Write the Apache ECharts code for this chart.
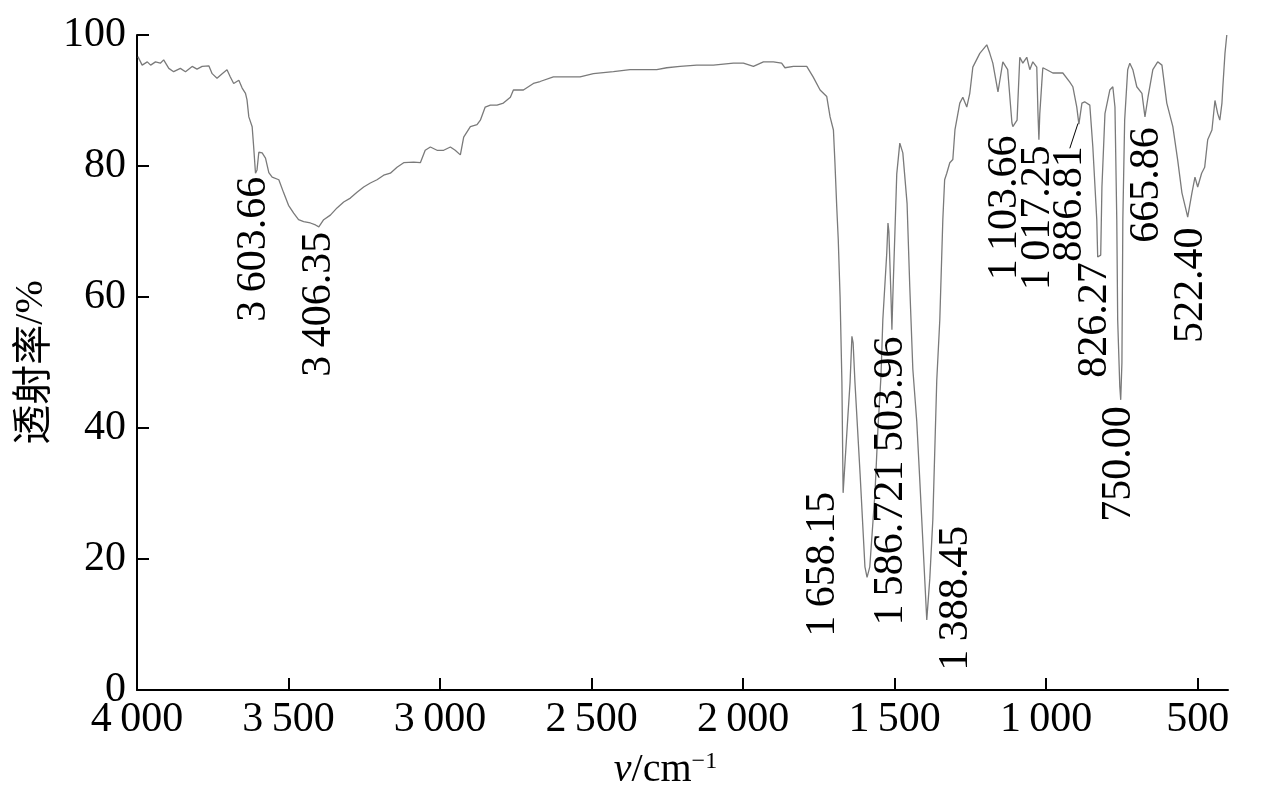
<!DOCTYPE html>
<html>
<head>
<meta charset="utf-8">
<script src="https://cdn.jsdelivr.net/npm/echarts@6/dist/echarts.min.js"></script>
<style>
html,body{margin:0;padding:0;background:#fff;}
#chart{width:1276px;height:798px;}
</style>
</head>
<body>
<div id="chart"></div>
<script>
// wavenumber (cm^-1) and transmittance (%)
const wavenumbers = [
3997,3983,3966,3955,3939,3923,3912,3895,3879,3857,3840,3818,3802,3785,3763,3752,3736,3719,3703,3692,
3681,3664,3653,3642,3637,3631,3620,3615,3609,3604,3598,3587,3576,3565,3554,3532,3516,3500,3483,3467,
3450,3428,3411,3400,3384,3362,3340,3318,3296,3274,3252,3230,3208,3186,3164,3142,3120,3087,3065,3049,
3032,3010,2988,2966,2950,2933,2922,2900,2878,2867,2851,2834,2812,2791,2768,2758,2725,2692,2670,2626,
2582,2538,2494,2428,2373,2285,2252,2208,2153,2098,2032,1999,1966,1933,1900,1873,1862,1834,1790,1769,
1746,1724,1713,1702,1697,1691,1686,1680,1674,1670,1664,1654,1647,1641,1637,1631,1614,1598,1591,1582,
1565,1555,1545,1539,1526,1522,1519,1512,1509,1506,1499,1493,1483,1473,1459,1450,1440,1427,1417,1404,
1394,1384,1374,1361,1351,1341,1335,1328,1318,1308,1301,1285,1275,1262,1252,1242,1219,1196,1186,1176,
1159,1143,1127,1113,1110,1096,1087,1077,1064,1054,1044,1031,1027,1024,1021,1014,1011,998,978,945,
922,912,899,892,882,873,856,846,833,830,820,816,806,790,780,773,767,764,757,754,
750,747,741,731,724,714,701,684,674,664,648,632,618,602,582,566,552,536,533,519,
509,500,487,477,467,453,443,434,427,420,417,410,404
];
const transmittance = [
96.7,95.4,95.9,95.4,95.9,95.7,96.2,94.9,94.4,94.9,94.4,95.2,94.8,95.2,95.3,94.1,93.4,94.1,94.7,93.6,
92.6,93.1,91.9,91.1,90.1,87.5,86.0,82.9,78.9,79.4,82.1,82.0,81.2,79.0,78.3,77.9,75.9,74.0,72.8,71.8,
71.5,71.3,71.0,70.7,71.8,72.5,73.6,74.5,75.1,76.0,76.8,77.4,77.9,78.6,78.9,79.8,80.5,80.6,80.5,82.4,
82.9,82.4,82.4,82.9,82.4,81.7,84.4,86.0,86.3,87.0,89.0,89.3,89.3,89.6,90.5,91.6,91.6,92.6,92.9,93.6,
93.6,93.6,94.1,94.4,94.7,94.7,95.0,95.2,95.4,95.4,95.7,95.7,95.2,95.9,95.9,95.7,95.0,95.2,95.2,93.6,
91.6,90.6,87.5,85.5,80.5,73.7,68.7,60.0,47.0,30.1,30.0,42.0,47.0,54.0,53.0,47.0,33.0,18.8,17.2,18.8,
30.0,40.0,48.0,56.5,66.7,71.3,70.0,60.0,55.0,60.0,70.0,78.8,83.5,82.0,74.3,61.5,49.0,41.0,32.0,20.0,
10.7,17.0,26.0,47.3,56.5,71.8,77.9,78.9,80.5,81.0,85.5,89.6,90.5,89.0,91.1,95.1,97.2,98.5,97.2,95.7,
91.3,95.9,94.7,86.6,86.0,87.0,96.6,95.7,96.6,94.7,95.9,95.1,88.0,84.0,88.0,93.0,95.0,94.7,94.2,94.2,
92.8,92.1,89.0,86.4,89.6,89.8,89.3,82.9,71.8,66.1,66.4,76.8,88.0,91.6,92.1,89.0,71.8,56.5,46.3,44.3,
50.0,71.8,87.0,94.7,95.7,94.7,92.1,91.1,87.5,90.5,94.7,95.9,95.4,89.6,86.0,80.9,75.9,72.8,72.2,75.9,
78.3,76.8,78.9,79.8,84.0,85.5,90.0,88.0,87.0,89.6,92.1,97.2,100.0
];

// axis ticks
const xTickValues = [500, 1000, 1500, 2000, 2500, 3000, 3500, 4000];
const yTickValues = [0, 20, 40, 60, 80, 100];

// peak annotations (text, centre position in data units)
const peakText = ['3 603.66','3 406.35','1 658.15','1 586.72','1 503.96','1 388.45','1 103.66','1 017.25','886.81','826.27','750.00','665.86','522.40'];
const peakLabelW = [3613, 3398, 1737, 1512, 1512, 1298, 1136, 1028, 922, 840, 760, 668, 523];
const peakLabelT = [67.3, 58.9, 19.2, 20.9, 42.9, 14.0, 73.6, 72.1, 74.2, 56.5, 34.5, 77.1, 61.8];

// leader line for 886.81
const leaderW = [922, 895];
const leaderT = [82.7, 86.5];

const SP = '\u2009';
function fmtNum(v) {
  if (v >= 1000) {
    const th = Math.floor(v / 1000);
    const rest = String(v % 1000).padStart(3, '0');
    return th + SP + rest;
  }
  return String(v);
}
const peakTextFmt = peakText.map(s => s.replace(' ', SP));

const spectrum = wavenumbers.map((w, i) => [w, transmittance[i]]);
const labelPts = peakLabelW.map((w, i) => ({ value: [w, peakLabelT[i]], name: peakTextFmt[i] }));
const leader = leaderW.map((w, i) => [w, leaderT[i]]);

const serif = '"Liberation Serif", "Times New Roman", serif';
const chart = echarts.init(document.getElementById('chart'), null, { renderer: 'canvas' });
chart.setOption({
  animation: false,
  backgroundColor: '#ffffff',
  grid: { left: 137, right: 48, top: 35, bottom: 108, containLabel: false, outerBoundsMode: 'none' },
  xAxis: {
    type: 'value',
    inverse: true,
    min: 400,
    max: 4000,
    name: '{i|ν}/cm{s|−1}',
    nameLocation: 'middle',
    nameGap: 60,
    nameTextStyle: {
      color: '#000',
      fontFamily: serif,
      fontSize: 40,
      padding: [0, 34, 0, 0],
      rich: {
        i: { fontFamily: serif, fontStyle: 'italic', fontSize: 40, color: '#000' },
        s: { fontFamily: serif, fontSize: 24, color: '#000', verticalAlign: 'top', padding: [0, 0, 16, 0] }
      }
    },
    axisLine: { show: true, onZero: false, lineStyle: { color: '#000', width: 2 } },
    axisTick: { show: true, inside: true, length: 12, lineStyle: { color: '#000', width: 2 }, customValues: xTickValues },
    axisLabel: { show: true, color: '#000', fontFamily: serif, fontSize: 42, margin: 9, customValues: xTickValues, formatter: v => fmtNum(v) },
    splitLine: { show: false }
  },
  yAxis: {
    type: 'value',
    min: 0,
    max: 100,
    interval: 20,
    name: '{c|透射率}/%',
    nameLocation: 'middle',
    nameRotate: 90,
    nameGap: 86,
    nameTextStyle: {
      color: '#000',
      fontFamily: serif,
      fontSize: 40,
      rich: {
        c: { fontFamily: '"Noto Sans CJK SC", sans-serif', fontSize: 40, color: '#000' }
      }
    },
    axisLine: { show: true, lineStyle: { color: '#000', width: 2 } },
    axisTick: { show: true, inside: true, length: 12, lineStyle: { color: '#000', width: 2 } },
    axisLabel: { show: true, color: '#000', fontFamily: serif, fontSize: 42, margin: 11,
      customValues: yTickValues, formatter: v => String(v) },
    splitLine: { show: false }
  },
  series: [
    {
      type: 'line',
      data: spectrum,
      showSymbol: false,
      symbol: 'none',
      lineStyle: { color: '#7a7a7a', width: 1.3 },
      z: 2
    },
    {
      type: 'line',
      data: leader,
      showSymbol: false,
      symbol: 'none',
      lineStyle: { color: '#000', width: 1 },
      z: 3
    },
    {
      type: 'scatter',
      data: labelPts,
      symbolSize: 0,
      z: 4,
      itemStyle: { opacity: 1 },
      label: {
        show: true,
        position: 'inside',
        rotate: 90,
        align: 'center',
        verticalAlign: 'middle',
        color: '#000',
        opacity: 1,
        fontFamily: serif,
        fontSize: 42,
        formatter: p => p.name
      }
    }
  ]
});
</script>
</body>
</html>
